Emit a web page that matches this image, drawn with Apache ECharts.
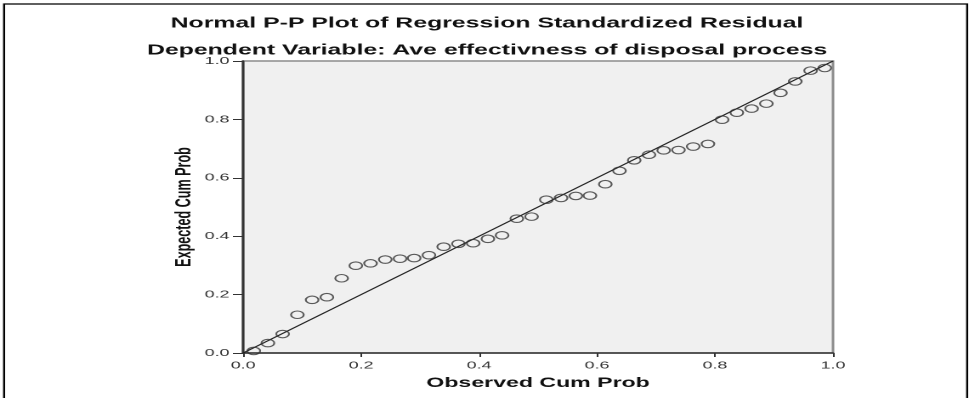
<!DOCTYPE html>
<html>
<head>
<meta charset="utf-8">
<script src="https://cdn.jsdelivr.net/npm/echarts@6/dist/echarts.min.js"></script>
<style>
html,body{margin:0;padding:0;background:#fff;overflow:hidden;width:974px;height:398px;}
#chart{width:573px;height:398px;transform:scaleX(1.7);transform-origin:0 0;}
</style>
</head>
<body>
<div id="chart"></div>
<script>
const titleText = "Normal P-P Plot of Regression Standardized Residual";
const subtitleText = "Dependent Variable: Ave effectivness of disposal process";
const xAxisName = "Observed Cum Prob";
const yAxisName = "Expected Cum Prob";
const observedCumProb = [0.018,0.042,0.067,0.092,0.117,0.142,0.167,0.191,0.216,0.241,0.266,0.290,0.315,0.340,0.365,0.390,0.415,0.439,0.464,0.489,0.514,0.539,0.564,0.588,0.614,0.638,0.663,0.688,0.713,0.738,0.763,0.788,0.812,0.837,0.862,0.887,0.911,0.936,0.962,0.986];
const expectedCumProb = [0.007,0.034,0.065,0.131,0.182,0.191,0.256,0.299,0.307,0.320,0.323,0.325,0.335,0.364,0.374,0.376,0.391,0.403,0.460,0.467,0.525,0.531,0.538,0.539,0.578,0.624,0.660,0.679,0.694,0.695,0.707,0.716,0.799,0.823,0.837,0.854,0.891,0.930,0.967,0.976];
const refLine = [[0,0],[1,1]];

const chart = echarts.init(document.getElementById('chart'), null, {renderer:'canvas', devicePixelRatio:2});
const pts = observedCumProb.map((x,i)=>[x, expectedCumProb[i]]);
const font = 'Arial, "Liberation Sans", sans-serif';
chart.setOption({
  animation:false,
  backgroundColor:'#ffffff',
  title:[
    {text:titleText, left:'center', top:11, textStyle:{fontFamily:font, fontWeight:'bold', fontSize:14.6, color:'#111'}},
    {text:subtitleText, left:'center', top:38, textStyle:{fontFamily:font, fontWeight:'bold', fontSize:14.6, color:'#111'}}
  ],
  graphic:[
    {type:'rect', shape:{x:2.4, y:4, width:566.5, height:420}, style:{fill:null, stroke:'#000', lineWidth:1.2}, silent:true, z:-10}
  ],
  grid:{left:143, right:83, top:61, bottom:45, show:true, backgroundColor:'#f0f0f0', borderColor:'#8c8c8c', borderWidth:1.5},
  xAxis:{type:'value', min:0, max:1, interval:0.2,
    name:xAxisName, nameLocation:'middle', nameGap:23,
    nameTextStyle:{fontFamily:font, fontWeight:'bold', fontSize:13.6, color:'#111'},
    axisLine:{show:true, lineStyle:{color:'#333', width:1.5}},
    axisTick:{show:true, length:4, lineStyle:{color:'#333'}},
    axisLabel:{fontFamily:font, fontSize:10.5, color:'#333', margin:7, formatter:v=>v.toFixed(1)},
    splitLine:{show:false}},
  yAxis:{type:'value', min:0, max:1, interval:0.2,
    name:yAxisName, nameLocation:'middle', nameGap:28, nameMoveOverlap:false,
    nameTextStyle:{fontFamily:font, fontWeight:'bold', fontSize:12.6, color:'#111'},
    axisLine:{show:true, lineStyle:{color:'#333', width:1.5}},
    axisTick:{show:true, length:6, lineStyle:{color:'#333'}},
    axisLabel:{fontFamily:font, fontSize:10.5, color:'#333', margin:8, formatter:v=>v.toFixed(1)},
    splitLine:{show:false}},
  series:[
    {type:'line', data:refLine, showSymbol:false, symbol:'none', lineStyle:{color:'#222', width:1.1}, z:2},
    {type:'scatter', data:pts, symbol:'circle', symbolSize:[7.5,7.5],
      itemStyle:{color:'rgba(0,0,0,0)', borderColor:'#333', borderWidth:1.1}, z:3}
  ]
});
</script>
</body>
</html>
